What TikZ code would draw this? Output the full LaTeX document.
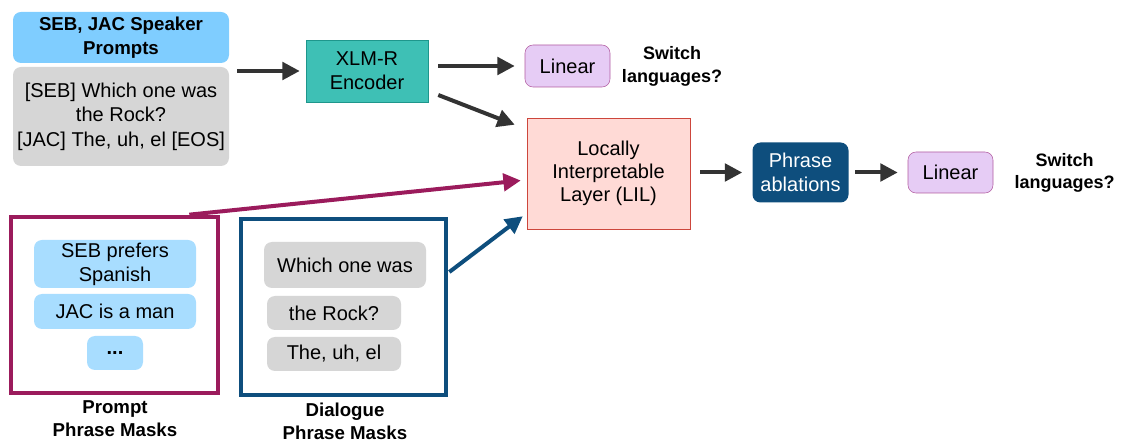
\documentclass[tikz,border=0pt]{standalone}
\usepackage{fontspec}
\setmainfont{Liberation Sans}
\usetikzlibrary{arrows.meta,calc}

\definecolor{spkblue}{RGB}{127,205,255}
\definecolor{phrblue}{RGB}{168,221,255}
\definecolor{uttgray}{RGB}{214,214,214}
\definecolor{encteal}{RGB}{62,192,181}
\definecolor{encedge}{RGB}{30,150,140}
\definecolor{linfill}{RGB}{230,204,245}
\definecolor{linedge}{RGB}{178,92,160}
\definecolor{lilfill}{RGB}{255,218,214}
\definecolor{liledge}{RGB}{205,70,60}
\definecolor{ablblue}{RGB}{14,78,125}
\definecolor{maskpurple}{RGB}{155,27,92}
\definecolor{arrowgray}{RGB}{51,51,51}

\tikzset{
  txt/.style={font=\fontsize{15}{18}\selectfont},
  btxt/.style={font=\fontsize{14}{17}\selectfont\bfseries},
  box/.style={rectangle, rounded corners=6pt, align=center, inner sep=0pt, txt},
  flow/.style={draw=arrowgray, line width=3pt, -{Triangle[length=13pt,width=13pt]}},
  maskframe/.style={rectangle, line width=3.5pt, fill=white, inner sep=0pt},
}

\begin{document}
\begin{tikzpicture}[x=0.75pt,y=0.75pt,yscale=-1,xscale=1]
\useasboundingbox (0,0) rectangle (1121,441);

%Rounded Rect: speaker prompts
\node[box, fill=spkblue, minimum width=162pt, minimum height=38.25pt, btxt, font=\fontsize{14}{18}\selectfont\bfseries] (spk) at (121,37.5) {SEB, JAC Speaker\\Prompts};
%Rounded Rect: dialogue
\node[box, fill=uttgray, minimum width=162pt, minimum height=74.25pt, font=\fontsize{15}{18.4}\selectfont] (dlg) at (121,116.5) {[SEB] Which one was\\the Rock?\\{}[JAC] The, uh, el [EOS]};
\coordinate (inp) at (229,71);

%Shape: Rectangle
\node[rectangle, draw=encedge, fill=encteal, minimum width=91.5pt, minimum height=46.5pt, align=center, txt] (xlmr) at (367,71) {XLM-R\\Encoder};
%Rounded Rect: linear
\node[box, draw=linedge, fill=linfill, minimum width=63.75pt, minimum height=31.5pt] (lin1) at (567.5,66) {Linear};
% Text Node
\node[btxt, font=\fontsize{13.5}{17}\selectfont\bfseries, align=center] (sw1) at (672,66.5) {Switch\\languages?};

%Shape: Rectangle
\node[rectangle, draw=liledge, fill=lilfill, minimum width=122.25pt, minimum height=83.25pt, align=center, font=\fontsize{15}{17.25}\selectfont] (lil) at (608.5,173.5) {Locally\\Interpretable\\Layer (LIL)};
%Rounded Rect: ablations
\node[box, fill=ablblue, text=white, minimum width=72pt, minimum height=45pt] (abl) at (800.5,172.5) {Phrase\\ablations};
%Rounded Rect: linear
\node[box, draw=linedge, fill=linfill, minimum width=63.75pt, minimum height=30.75pt] (lin2) at (950.5,172.5) {Linear};
% Text Node
\node[btxt, font=\fontsize{13.5}{17}\selectfont\bfseries, align=center] (sw2) at (1064.5,173) {Switch\\languages?};

%Straight Lines
\draw[flow, shorten <=6pt, shorten >=4.5pt] (inp) -- (xlmr);
\draw[flow, shorten <=7.5pt, shorten >=7.5pt] (xlmr.east |- lin1) -- (lin1);
\draw[flow] ($(xlmr.east)+(10,24)$) -- ($(lil.north west)+(-12,7)$);
\draw[flow, shorten <=7.5pt, shorten >=7.5pt] (lil.east |- abl) -- (abl);
\draw[flow, shorten <=5pt, shorten >=7.5pt] (abl) -- (lin2);

%Shape: prompt masks
\node[maskframe, draw=maskpurple, minimum width=155.25pt, minimum height=132pt] (pmask) at (114.5,305) {};
\node[box, fill=phrblue, minimum width=121.5pt, minimum height=36pt] (p1) at (115,264) {SEB prefers\\Spanish};
\node[box, fill=phrblue, minimum width=121.5pt, minimum height=26.25pt] (p2) at (115,311.5) {JAC is a man};
\node[box, fill=phrblue, minimum width=42pt, minimum height=25.5pt, font=\fontsize{15}{18}\selectfont\bfseries] (p3) at (115,353) {...};
% Text Node
\node[btxt, align=center] (plab) at (115,419) {Prompt\\Phrase Masks};

%Shape: dialogue masks
\node[maskframe, draw=ablblue, minimum width=153.75pt, minimum height=132pt] (dmask) at (343.5,307) {};
\node[box, fill=uttgray, minimum width=121.5pt, minimum height=34.5pt] (d1) at (345,265) {Which one was};
\node[box, fill=uttgray, minimum width=100.5pt, minimum height=25.5pt] (d2) at (334,313) {the Rock?};
\node[box, fill=uttgray, minimum width=100.5pt, minimum height=25.5pt] (d3) at (334,354) {The, uh, el};
% Text Node
\node[btxt, align=center] (dlab) at (345,421) {Dialogue\\Phrase Masks};

%Straight Lines: masks into LIL
\draw[line width=3pt, draw=maskpurple, -{Triangle[length=13pt,width=13pt]}] ($(pmask.north east)+(-31,0)$) -- ($(lil.west)+(-6,7)$);
\draw[line width=3pt, draw=ablblue, -{Triangle[length=13pt,width=13pt]}] ($(dmask.east)+(1,-35)$) -- ($(lil.south west)+(-4,-13)$);

\end{tikzpicture}
\end{document}
